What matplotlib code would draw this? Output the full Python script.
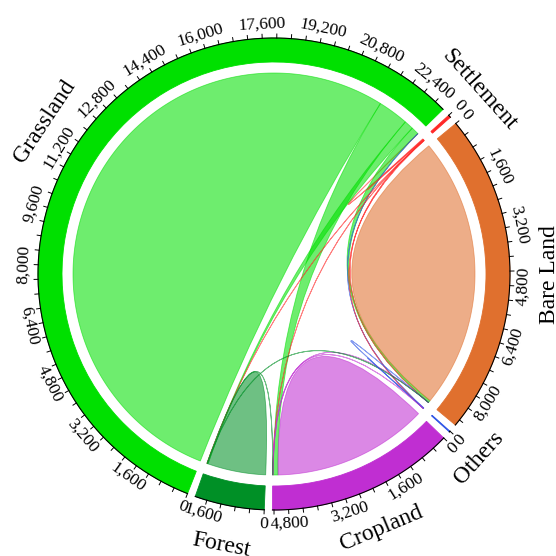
import numpy as np
import matplotlib.pyplot as plt
from matplotlib.path import Path
from matplotlib.patches import PathPatch, Wedge

plt.rcParams['font.family'] = ['Liberation Serif', 'DejaVu Serif']

names = ["Grassland", "Settlement", "Bare Land", "Others", "Cropland", "Forest"]
colors = ["#00e000", "#ff2828", "#e0702e", "#2f55e6", "#c02ed2", "#009026"]

# land-use transfer matrix, row = from, column = to
grassland_row = [21540, 4, 250, 3, 1000, 300]
settlement_row = [20, 15, 15, 1, 12, 8]
bareland_row = [70, 1, 8900, 1, 4, 3]
others_row = [12, 0.5, 6, 8, 0, 0]
cropland_row = [160, 1, 8, 1, 5070, 3]
forest_row = [20, 0.5, 12, 0, 4, 1900]

flows = np.array([grassland_row, settlement_row, bareland_row,
                  others_row, cropland_row, forest_row], dtype=float)
n = len(names)

r_link = 201
r_in, r_out = 212, 236
pad = 2.0        # degrees between groups
start = 248.5    # groups run clockwise from here
alpha = 0.57

totals = flows.sum(axis=1)
k = (360 - pad * n) / totals.sum()   # degrees per unit

# chord layout: subgroups sorted descending inside each group
group_span = []
sub_span = {}
a = start
for i in range(n):
    g0 = a
    for j in np.argsort(-flows[i], kind='stable'):
        w = flows[i, j] * k
        sub_span[(i, j)] = (a, a - w)
        a -= w
    group_span.append((g0, a))
    a -= pad


def pt(theta, r):
    t = np.radians(theta)
    return (r * np.cos(t), r * np.sin(t))


def arc(t0, t1, r):
    m = max(2, int(abs(t0 - t1) * 2) + 2)
    th = np.radians(np.linspace(t0, t1, m))
    return [(r * np.cos(x), r * np.sin(x)) for x in th]


def ribbon(s, t, self_link):
    verts = arc(s[0], s[1], r_link)
    codes = [Path.MOVETO] + [Path.LINETO] * (len(verts) - 1)
    if not self_link:
        verts += [(0, 0), pt(t[0], r_link)]
        codes += [Path.CURVE3, Path.CURVE3]
        a2 = arc(t[0], t[1], r_link)[1:]
        verts += a2
        codes += [Path.LINETO] * len(a2)
    verts += [(0, 0), pt(s[0], r_link)]
    codes += [Path.CURVE3, Path.CURVE3]
    verts.append(verts[0])
    codes.append(Path.CLOSEPOLY)
    return Path(verts, codes)


fig = plt.figure(figsize=(5.56, 5.56), dpi=100)
ax = fig.add_axes([0, 0, 1, 1])
ax.set_xlim(-274, 282)
ax.set_ylim(-282, 274)
ax.axis('off')

# ribbons, coloured by the larger end
for i in range(n):
    for j in range(i, n):
        if flows[i, j] == 0 and flows[j, i] == 0:
            continue
        src, tgt = (i, j) if flows[i, j] >= flows[j, i] else (j, i)
        p = ribbon(sub_span[(src, tgt)], sub_span[(tgt, src)], i == j)
        ax.add_patch(PathPatch(p, facecolor=colors[src], edgecolor=colors[src],
                               lw=0.6, alpha=alpha))


def text_rot(theta):
    th = (theta + 180) % 360 - 180
    return th + 90 if th < 0 else th - 90


# outer ring, ticks and labels
for i, (g0, g1) in enumerate(group_span):
    ax.add_patch(Wedge((0, 0), r_out, g1, g0, width=r_out - r_in,
                       facecolor=colors[i], edgecolor=colors[i], lw=0.6))
    edge = np.array(arc(g0, g1, r_out))
    ax.plot(edge[:, 0], edge[:, 1], color='black', lw=0.8)
    for v in np.arange(0, totals[i] + 1e-9, 400):
        th = g0 - v * k
        x0, y0 = pt(th, r_out)
        x1, y1 = pt(th, r_out + 4)
        ax.plot([x0, x1], [y0, y1], color='black', lw=0.7)
        if v % 1600 == 0:
            lx, ly = pt(th, r_out + 14)
            ax.text(lx, ly, f"{int(v):,}", fontsize=12.5, rotation=text_rot(th),
                    ha='center', va='center', rotation_mode='anchor')
    mid = (g0 + g1) / 2
    lx, ly = pt(mid, r_out + 40)
    ax.text(lx, ly, names[i], fontsize=17, rotation=text_rot(mid),
            ha='center', va='center', rotation_mode='anchor')

fig.savefig('out.png', dpi=100)
